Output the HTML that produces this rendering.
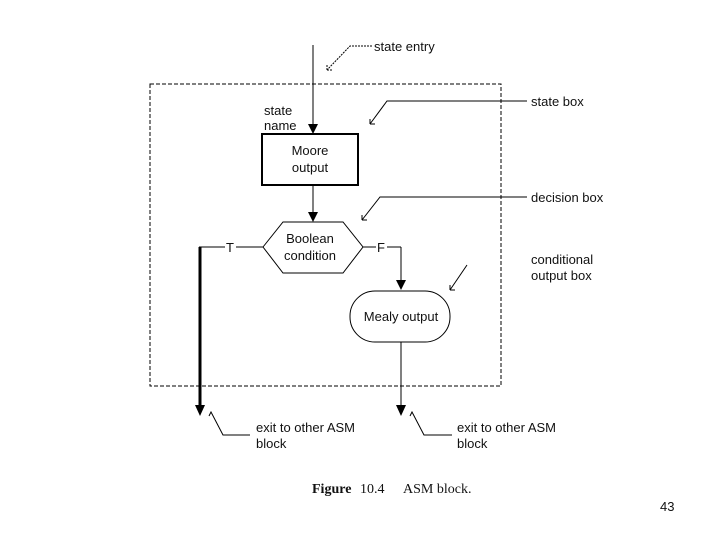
<!DOCTYPE html>
<html><head><style>
body{margin:0;background:#fff;}
svg{display:block;}
text{font-family:"Liberation Sans",sans-serif;font-size:13px;fill:#111;}
</style></head><body>
<svg width="720" height="540" viewBox="0 0 720 540">
<rect x="150" y="84" width="351" height="302" fill="none" stroke="#000" stroke-dasharray="4,2"/>
<line x1="313" y1="45" x2="313" y2="126" stroke="#000"/>
<path d="M308,124 L318,124 L313,134 z"/>
<rect x="262" y="134" width="96" height="51" fill="none" stroke="#000" stroke-width="2"/>
<text x="310" y="155" text-anchor="middle">Moore</text>
<text x="310" y="172" text-anchor="middle">output</text>
<line x1="313" y1="185" x2="313" y2="214" stroke="#000"/>
<path d="M308,212 L318,212 L313,222 z"/>
<polygon points="263,247 283,222 343,222 363,247 343,273 283,273" fill="none" stroke="#000"/>
<text x="310" y="243" text-anchor="middle">Boolean</text>
<text x="310" y="260" text-anchor="middle">condition</text>
<line x1="263" y1="247" x2="236" y2="247" stroke="#000"/>
<line x1="225" y1="247" x2="199" y2="247" stroke="#000"/>
<text x="226" y="252">T</text>
<line x1="200" y1="247" x2="200" y2="407" stroke="#000" stroke-width="3"/>
<path d="M195,405 L205,405 L200,416 z"/>
<line x1="363" y1="247" x2="376" y2="247" stroke="#000"/>
<text x="377" y="252" fill="#555">F</text>
<line x1="387" y1="247" x2="401" y2="247" stroke="#000"/>
<line x1="401" y1="247" x2="401" y2="282" stroke="#000"/>
<path d="M396,280 L406,280 L401,290 z"/>
<rect x="350" y="291" width="100" height="51" rx="25" fill="none" stroke="#000"/>
<text x="401" y="321" text-anchor="middle">Mealy output</text>
<line x1="401" y1="342" x2="401" y2="407" stroke="#000"/>
<path d="M396,405 L406,405 L401,416 z"/>
<g fill="none" stroke="#000">
<path d="M372,46 L350,46 L327,70 M327,70 l0,-5 M327,70 l5,0" stroke-dasharray="2,1"/>
<path d="M527,101 L387,101 L370,124 M370,124 l0,-5 M370,124 l5,0"/>
<path d="M527,197 L380,197 L362,220 M362,220 l0,-5 M362,220 l5,0"/>
<path d="M467,265 L450,290 M450,290 l0,-5 M450,290 l5,0"/>
<path d="M250,435 L223,435 L211,412 l-2,4"/>
<path d="M452,435 L424,435 L412,412 l-2,4"/>
</g>
<text x="374" y="51">state entry</text>
<text x="264" y="115">state</text>
<text x="264" y="130">name</text>
<text x="531" y="106">state box</text>
<text x="531" y="202">decision box</text>
<text x="531" y="264">conditional</text>
<text x="531" y="280">output box</text>
<text x="256" y="432">exit to other ASM</text>
<text x="256" y="448">block</text>
<text x="457" y="432">exit to other ASM</text>
<text x="457" y="448">block</text>
<text x="312" y="493" style="font-family:'Liberation Serif',serif;font-size:14px;font-weight:bold">Figure</text>
<text x="360" y="493" style="font-family:'Liberation Serif',serif;font-size:14px">10.4</text>
<text x="403" y="493" style="font-family:'Liberation Serif',serif;font-size:14px">ASM block.</text>
<text x="660" y="511">43</text>
</svg>
</body></html>
